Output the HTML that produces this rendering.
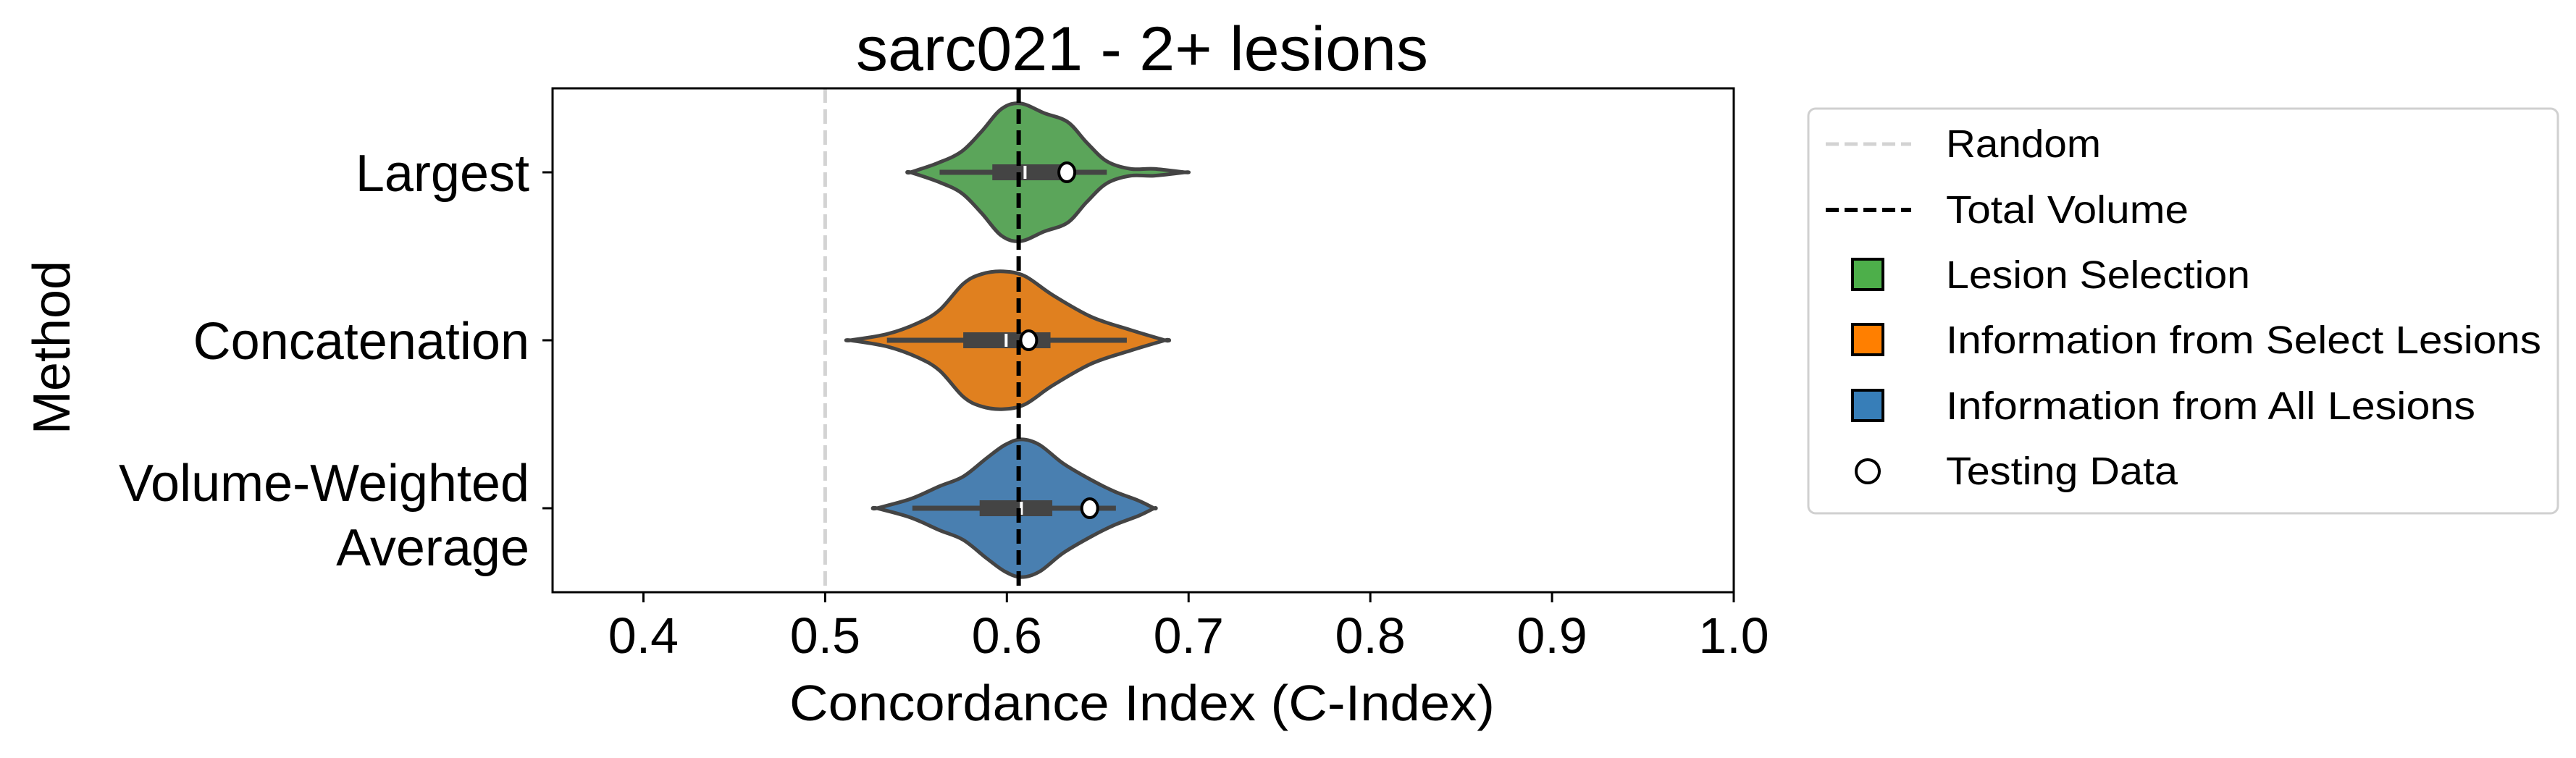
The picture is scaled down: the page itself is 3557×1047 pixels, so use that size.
<!DOCTYPE html>
<html><head><meta charset="utf-8"><style>
html,body{margin:0;padding:0;background:#fff;}
svg{display:block;font-family:"Liberation Sans",sans-serif;}
</style></head><body>
<svg id="chart" width="3557" height="1047" viewBox="0 0 3557 1047" xmlns="http://www.w3.org/2000/svg">
<rect x="0" y="0" width="3557" height="1047" fill="#fff"/>
<g id="plot"></g>
<text x="1577" y="97" font-size="86" text-anchor="middle" textLength="790" lengthAdjust="spacingAndGlyphs">sarc021 - 2+ lesions</text>
<text x="1577" y="995" font-size="70" text-anchor="middle" textLength="974" lengthAdjust="spacingAndGlyphs">Concordance Index (C-Index)</text>
<text transform="translate(96,480) rotate(-90)" font-size="72" text-anchor="middle">Method</text>
<g>
<rect x="2497" y="150" width="1035" height="559" rx="10" fill="#fff" stroke="#d0d0d0" stroke-width="3"/>
<line x1="2521" y1="199" x2="2639" y2="199" stroke="#d3d3d3" stroke-width="5" stroke-dasharray="18,8"/>
<text x="2687" y="217" font-size="54" textLength="214" lengthAdjust="spacingAndGlyphs">Random</text>
<line x1="2521" y1="290" x2="2639" y2="290" stroke="#000" stroke-width="6" stroke-dasharray="18,8"/>
<text x="2687" y="308" font-size="54" textLength="335" lengthAdjust="spacingAndGlyphs">Total Volume</text>
<rect x="2558" y="358" width="42" height="42" fill="#4daf4a" stroke="#000" stroke-width="4"/>
<text x="2687" y="398" font-size="54" textLength="420" lengthAdjust="spacingAndGlyphs">Lesion Selection</text>
<rect x="2558" y="448" width="42" height="42" fill="#ff7f00" stroke="#000" stroke-width="4"/>
<text x="2687" y="488" font-size="54" textLength="822" lengthAdjust="spacingAndGlyphs">Information from Select Lesions</text>
<rect x="2558" y="539" width="42" height="42" fill="#377eb8" stroke="#000" stroke-width="4"/>
<text x="2687" y="579" font-size="54" textLength="731" lengthAdjust="spacingAndGlyphs">Information from All Lesions</text>
<ellipse cx="2579" cy="651" rx="16" ry="16" fill="#fff" stroke="#000" stroke-width="4"/>
<text x="2687" y="669" font-size="54" textLength="320" lengthAdjust="spacingAndGlyphs">Testing Data</text>
</g>
</svg>
<script>
const categories = ["Largest", "Concatenation", "Volume-Weighted\nAverage"];
const fillColors = ["#5ba55a", "#e0801f", "#497fb0"];
const xTicks = [0.4, 0.5, 0.6, 0.7, 0.8, 0.9, 1.0];
const xTickLabels = ["0.4", "0.5", "0.6", "0.7", "0.8", "0.9", "1.0"];
const randomLine = 0.5;
const totalVolume = 0.6065;
// density profiles: x values and relative half-widths
const greenX = [0.547, 0.562, 0.575, 0.586, 0.597, 0.6075, 0.6205, 0.6335, 0.644, 0.655, 0.668, 0.681, 0.698];
const greenW = [0, 0.135, 0.30, 0.59, 0.92, 1.0, 0.86, 0.73, 0.43, 0.16, 0.05, 0.05, 0];
const orangeX = [0.514, 0.534, 0.551, 0.563, 0.576, 0.586, 0.598, 0.610, 0.625, 0.6465, 0.668, 0.687];
const orangeW = [0, 0.09, 0.25, 0.44, 0.82, 0.96, 1.0, 0.93, 0.66, 0.34, 0.15, 0];
const blueX = [0.5285, 0.547, 0.563, 0.576, 0.589, 0.599, 0.608, 0.618, 0.631, 0.6465, 0.6595, 0.6725, 0.681];
const blueW = [0, 0.135, 0.32, 0.46, 0.73, 0.92, 1.0, 0.92, 0.65, 0.41, 0.24, 0.11, 0];
const q1 = [0.592, 0.576, 0.585];
const q3 = [0.633, 0.624, 0.625];
const medians = [0.610, 0.5996, 0.608];
const whiskLo = [0.563, 0.534, 0.548];
const whiskHi = [0.655, 0.666, 0.660];
const testing = [0.633, 0.612, 0.6456];

const NS = "http://www.w3.org/2000/svg";
const L = 763, R = 2394, T = 122, B = 818;
const xMin = 0.35, xMax = 1.0;
function xs(v){ return L + (v - xMin) / (xMax - xMin) * (R - L); }
function ys(i){ return T + (i + 0.5) / 3 * (B - T); }
const halfMax = 0.41 * (B - T) / 3;
const plot = document.getElementById('plot');
function mk(tag, attrs, parent){ const e = document.createElementNS(NS, tag); for (const k in attrs) e.setAttribute(k, attrs[k]); (parent||plot).appendChild(e); return e; }

let rl = mk('line', {x1: xs(randomLine), x2: xs(randomLine), y1: T, y2: B, stroke: '#d3d3d3', 'stroke-width': 5, 'stroke-dasharray': '20,9'});



const profX = [greenX, orangeX, blueX];
const profW = [greenW, orangeW, blueW];
const names = ['largest', 'concatenation', 'volume-weighted-average'];
for (let i = 0; i < 3; i++) {
  const cy = ys(i);
  const X = profX[i], W = profW[i];
  let top = [], bot = [];
  for (let j = 0; j < X.length; j++) { top.push([xs(X[j]), cy - W[j]*halfMax]); bot.push([xs(X[j]), cy + W[j]*halfMax]); }
  const pts = top.concat(bot.reverse());
  let d = 'M' + pts[0][0] + ',' + pts[0][1];
  const n = pts.length;
  for (let k = 0; k < n; k++) {
    const p0 = pts[(k-1+n)%n], p1 = pts[k], p2 = pts[(k+1)%n], p3 = pts[(k+2)%n];
    const c1 = [p1[0] + (p2[0]-p0[0])/6, p1[1] + (p2[1]-p0[1])/6];
    const c2 = [p2[0] - (p3[0]-p1[0])/6, p2[1] - (p3[1]-p1[1])/6];
    d += ' C' + c1 + ' ' + c2 + ' ' + p2;
  }
  let v = mk('path', {d: d, fill: fillColors[i], stroke: '#444', 'stroke-width': 5, 'stroke-linejoin': 'round'});
  
  
  let w = mk('line', {x1: xs(whiskLo[i]), x2: xs(whiskHi[i]), y1: cy, y2: cy, stroke: '#444', 'stroke-width': 7});
  
  
  let b = mk('rect', {x: xs(q1[i]), y: cy - 11, width: xs(q3[i]) - xs(q1[i]), height: 22, fill: '#444'});
  
  
  let m = mk('line', {x1: xs(medians[i]), x2: xs(medians[i]), y1: cy - 9, y2: cy + 9, stroke: '#fff', 'stroke-width': 4});
  
  
  let t = mk('ellipse', {cx: xs(testing[i]), cy: cy, rx: 11, ry: 13, fill: '#fff', stroke: '#000', 'stroke-width': 4});
  
  
  mk('line', {x1: L - 14, x2: L, y1: cy, y2: cy, stroke: '#000', 'stroke-width': 3});
  const lines = categories[i].split('\n');
  lines.forEach((ln, li) => {
    const yy = lines.length === 1 ? cy + 26 : cy - 10 + li * 89;
    let tx = mk('text', {x: 731, y: yy, 'font-size': 72, 'text-anchor': 'end'});
    tx.textContent = ln;
    
    
  });
}
let tv = mk('line', {x1: xs(totalVolume), x2: xs(totalVolume), y1: T, y2: B, stroke: '#000', 'stroke-width': 6, 'stroke-dasharray': '20,9'});



let fr = mk('rect', {x: L, y: T, width: R - L, height: B - T, fill: 'none', stroke: '#000', 'stroke-width': 3});


xTicks.forEach((v, k) => {
  mk('line', {x1: xs(v), x2: xs(v), y1: B, y2: B + 14, stroke: '#000', 'stroke-width': 3});
  let tx = mk('text', {x: xs(v), y: 902, 'font-size': 70, 'text-anchor': 'middle'});
  tx.textContent = xTickLabels[k];
  
  
});
</script>
</body></html>
